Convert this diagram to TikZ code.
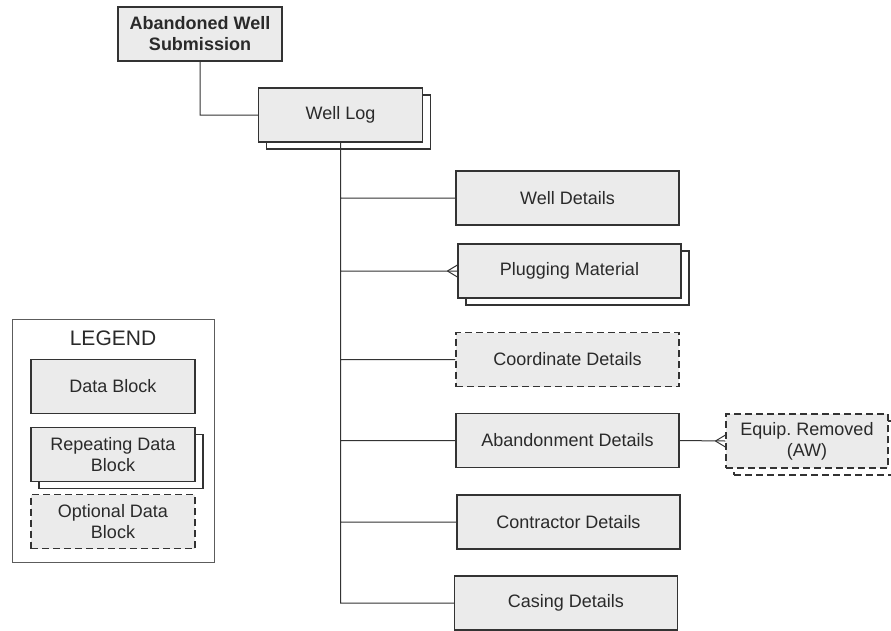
\documentclass[tikz,border=0pt]{standalone}
\usepackage{fontspec}
\setmainfont{Liberation Sans}
\usetikzlibrary{shadows,calc}
\definecolor{boxfill}{HTML}{EBEBEB}
\definecolor{boxline}{HTML}{333333}
\definecolor{boxtext}{HTML}{2A2A2A}
\begin{document}
\begin{tikzpicture}[x=1pt,y=-1pt,
  box/.style={draw=boxline, fill=boxfill, line width=1.1pt, text=boxtext,
    minimum width=164pt, minimum height=54pt, align=center,
    font=\fontsize{18}{21}\selectfont},
  wide/.style={box, minimum width=223pt},
  rep/.style={general shadow={shadow xshift=8pt, shadow yshift=-7pt,
    fill=white, draw=boxline}},
  opt/.style={dash pattern=on 7pt off 4pt},
  link/.style={draw=boxline, line width=1pt}]
\useasboundingbox (0,0) rectangle (891,630);

% main tree
\node (sub) at (200,34) [box, font=\fontsize{18}{21}\selectfont\bfseries] {Abandoned Well\\Submission};
\node (wlog) at (340.5,115) [box, rep] {Well Log};
\node (wdet) at (567.5,198) [wide] {Well Details};
\node (plug) at (569.5,271) [wide, rep] {Plugging Material};
\node (coord) at (567.5,359.5) [wide, opt] {Coordinate Details};
\node (aband) at (567.5,440.5) [wide] {Abandonment Details};
\node (equip) at (807,441) [box, minimum width=162pt, opt, rep] {Equip.\ Removed\\(AW)};
\node (contr) at (568.5,522) [wide] {Contractor Details};
\node (casing) at (566,603) [wide] {Casing Details};

\draw[link]
(sub.south) |- (wlog.west)
(wlog.south) |- (wdet.west)
(wlog.south) |- (plug.west)
(wlog.south) |- (coord.west)
(wlog.south) |- (aband.west)
(wlog.south) |- (contr.west)
(wlog.south) |- (casing.west)
(aband.east) -- (equip.west);

% crow's feet
\draw[link]
($(plug.west)+(-10,0)$) -- ($(plug.west)+(0,-6)$)
($(plug.west)+(-10,0)$) -- ($(plug.west)+(0,6)$)
($(equip.west)+(-10,0)$) -- ($(equip.west)+(0,-6)$)
($(equip.west)+(-10,0)$) -- ($(equip.west)+(0,6)$);

% legend
\node (legend) at (113,440.5) [draw=boxline!80, line width=1pt, minimum width=202pt, minimum height=243pt] {};
\node (title) at (113,338) [text=boxtext, font=\fontsize{21}{24}\selectfont] {LEGEND};
\node (ldata) at (113,386.5) [box] {Data Block};
\node (lrep) at (113,454.5) [box, rep] {Repeating Data\\Block};
\node (lopt) at (113,521.5) [box, opt] {Optional Data\\Block};
\end{tikzpicture}
\end{document}
